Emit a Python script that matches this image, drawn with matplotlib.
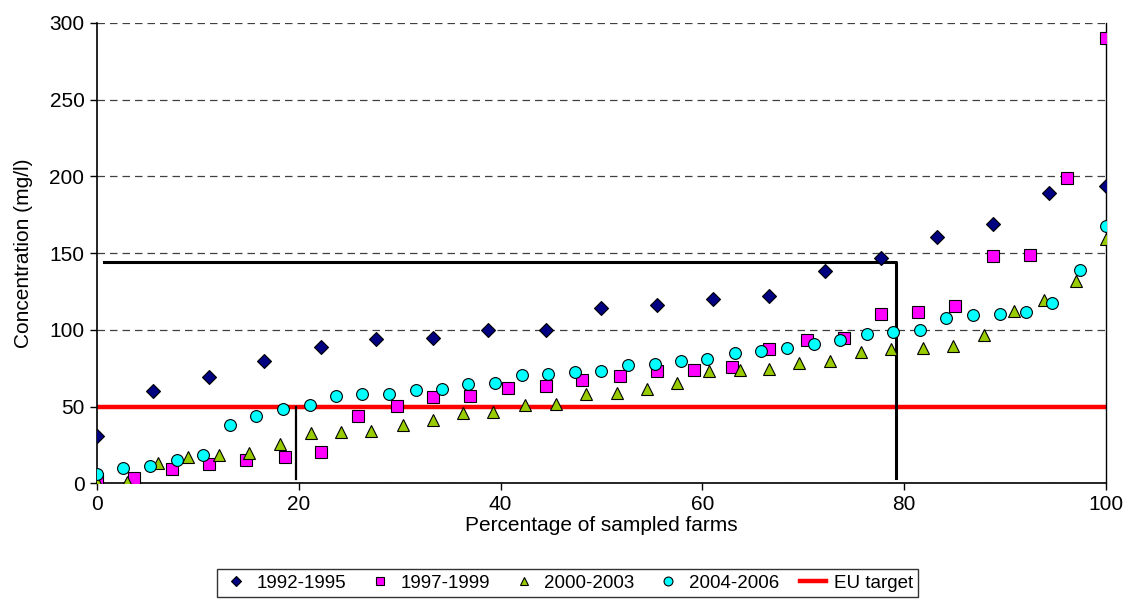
#Import libraries
import matplotlib.pyplot as plt

plt.rcParams['font.family'] = ['Liberation Sans', 'DejaVu Sans']

#Values (percentage of sampled farms, concentration in mg/l)
x_9295 = [0, 5.6, 11.1, 16.6, 22.2, 27.7, 33.3, 38.8, 44.5, 50.0, 55.5, 61.1, 66.6, 72.2, 77.7, 83.3, 88.8, 94.4, 100]
y_9295 = [31, 60, 69, 80, 89, 94, 95, 100, 100, 114.5, 116, 120, 122, 138.5, 147, 160.5, 169, 189, 194]

x_9799 = [0, 3.7, 7.4, 11.1, 14.8, 18.6, 22.2, 25.9, 29.7, 33.3, 37.0, 40.7, 44.5, 48.1,
          51.8, 55.5, 59.2, 62.9, 66.6, 70.4, 74.0, 77.7, 81.4, 85.1, 88.8, 92.5, 96.2, 100]
y_9799 = [3, 3.3, 9.1, 12.4, 15, 17, 20.6, 43.9, 50.4, 56.3, 56.9, 62.0, 63.7, 67.2,
          70.2, 73.3, 73.9, 75.9, 87.4, 93.7, 94.6, 110.2, 111.7, 115.7, 148.3, 148.7, 199, 290]

x_0003 = [0, 3.0, 6.0, 9.0, 12.1, 15.1, 18.1, 21.2, 24.2, 27.2, 30.3, 33.3, 36.3, 39.3, 42.4, 45.5, 48.5,
          51.5, 54.5, 57.5, 60.7, 63.7, 66.6, 69.6, 72.7, 75.7, 78.7, 81.9, 84.9, 87.9, 90.9, 93.9, 97.0, 100]
y_0003 = [1, 1, 13, 17, 18.3, 19.8, 25.4, 32.6, 33.3, 34.1, 37.8, 41.1, 45.7, 46.7, 51.1, 51.7, 58.3,
          58.9, 61.7, 65.6, 73.3, 73.9, 74.4, 78.3, 79.8, 85.4, 87.4, 88.1, 89.8, 96.5, 112.2, 119.4, 132.0, 159.2]

x_0406 = [0, 2.6, 5.3, 7.9, 10.5, 13.2, 15.8, 18.4, 21.1, 23.7, 26.3, 28.9, 31.6, 34.2, 36.8, 39.5, 42.1, 44.7, 47.4, 50.0,
          52.6, 55.3, 57.9, 60.5, 63.2, 65.8, 68.4, 71.1, 73.7, 76.3, 78.9, 81.6, 84.2, 86.8, 89.5, 92.1, 94.7, 97.4, 100]
y_0406 = [5.9, 9.8, 11.1, 15.4, 18.3, 37.8, 44.1, 48.7, 51.1, 56.7, 58.2, 58.2, 61.1, 61.7, 64.6, 65.4, 70.4, 71.5, 72.6, 73.3,
          77.0, 78.0, 79.6, 81.1, 85.2, 86.1, 88.1, 90.9, 93.5, 97.2, 98.7, 100, 107.4, 109.6, 110.4, 111.5, 117.6, 138.9, 167.8]

eu_target = 50

#Black guide lines drawn on the chart
guide1_x = [0.7, 79.2, 79.2]
guide1_y = [144.2, 144.2, 3.3]
guide2_x = [19.75, 19.75]
guide2_y = [50, 2.8]

#Plot the results
fig, ax = plt.subplots(figsize = (11.33, 6.15), dpi = 100)
fig.subplots_adjust(left = 0.0856, right = 0.976, top = 0.963, bottom = 0.214)

ax.axhline(eu_target, color = "#FF0000", lw = 3.2, zorder = 2, label = "EU target")
ax.plot(guide1_x, guide1_y, color = "black", lw = 2.2, zorder = 2.5)
ax.plot(guide2_x, guide2_y, color = "black", lw = 1.6, zorder = 2.5)

ax.plot(x_9295, y_9295, ls = "none", marker = "D", ms = 7, mfc = "#000080", mec = "black", mew = 0.8, zorder = 3, label = "1992-1995")
ax.plot(x_9799, y_9799, ls = "none", marker = "s", ms = 8, mfc = "#FF00FF", mec = "black", mew = 0.8, zorder = 3, label = "1997-1999")
ax.plot(x_0003, y_0003, ls = "none", marker = "^", ms = 8.5, mfc = "#99CC00", mec = "black", mew = 0.8, zorder = 3, label = "2000-2003")
ax.plot(x_0406, y_0406, ls = "none", marker = "o", ms = 8.5, mfc = "#00FFFF", mec = "black", mew = 0.8, zorder = 3, label = "2004-2006")

ax.set_xlim(0, 100)
ax.set_ylim(0, 300)
ax.set_xticks([0, 20, 40, 60, 80, 100])
ax.set_yticks([0, 50, 100, 150, 200, 250, 300])
ax.tick_params(labelsize = 15, length = 5, direction = "out", width = 1, pad = 4)
ax.tick_params(axis = "x", pad = 3)
ax.yaxis.grid(True, ls = (0, (6, 4)), color = "#404040", lw = 0.9)
ax.set_axisbelow(True)
ax.spines["top"].set_visible(False)
ax.spines["right"].set_linewidth(1)
ax.spines["left"].set_linewidth(1.2)
ax.spines["bottom"].set_linewidth(1.2)
ax.set_xlabel("Percentage of sampled farms", fontsize = 15, labelpad = 2)
ax.set_ylabel("Concentration (mg/l)", fontsize = 15, labelpad = 12)

#Legend in the order of the original chart
handles, labels = ax.get_legend_handles_labels()
order = [1, 2, 3, 4, 0]
leg = fig.legend([handles[i] for i in order], [labels[i] for i in order], loc = "center",
                 bbox_to_anchor = (0.501, 0.052), ncol = 5, fontsize = 13.5, frameon = True,
                 fancybox = False, edgecolor = "black", handlelength = 1.4, handletextpad = 0.4,
                 columnspacing = 1.1, borderpad = 0.3, markerscale = 0.75)
leg.get_frame().set_linewidth(1)

plt.savefig("out.png", dpi = 100)
